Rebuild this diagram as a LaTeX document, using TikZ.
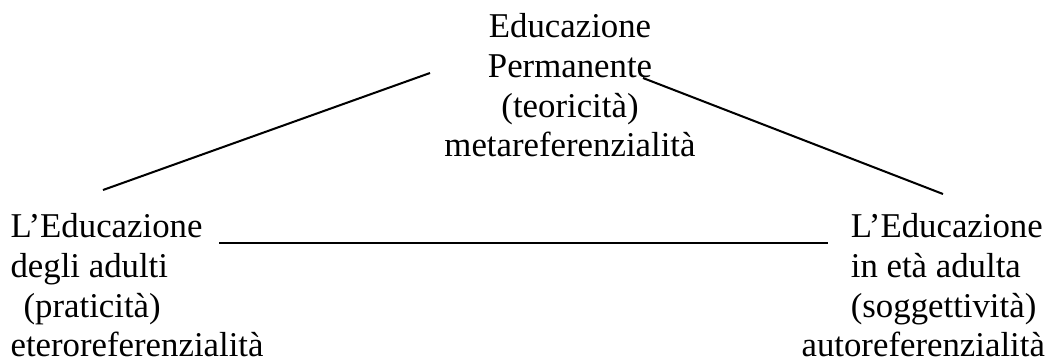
\documentclass[tikz,border=0pt]{standalone}
\usepackage{fontspec}
\setmainfont{Liberation Serif}
\usetikzlibrary{positioning}

\begin{document}
\begin{tikzpicture}[x=0.345pt, y=-0.345pt,
        block/.style={inner sep=0, font=\fontsize{12}{13.7}\selectfont},
        link/.style={line width=0.7pt},
        bar/.style={line width=0.9pt}]
        \useasboundingbox (0,0) rectangle (1058,363);

        % nodes %
        \node[block, align=center, anchor=north] (perm) at (570,13) {Educazione\\Permanente\\(teoricità)\\metareferenzialità};
        \node[block, align=left, anchor=north west] (adulti) at (10,213) {L’Educazione\\degli adulti\\\hspace*{4.5pt}(praticità)\\eteroreferenzialità};
        \node[block, align=left, anchor=north west] (eta) at (801,213) {\hspace*{17pt}L’Educazione\\\hspace*{17pt}in età adulta\\\hspace*{17pt}(soggettività)\\autoreferenzialità};

        % line ends %
        \coordinate (l1) at (103,190);
        \coordinate (l2) at (430,73);
        \coordinate (r1) at (643,78);
        \coordinate (r2) at (943,194);
        \coordinate (b1) at (219,243);
        \coordinate (b2) at (828,243);

        % edges %
        \draw[link] (l1) -- (l2);
        \draw[link] (r1) -- (r2);
        \draw[bar] (b1) -- (b2);
\end{tikzpicture}
\end{document}
